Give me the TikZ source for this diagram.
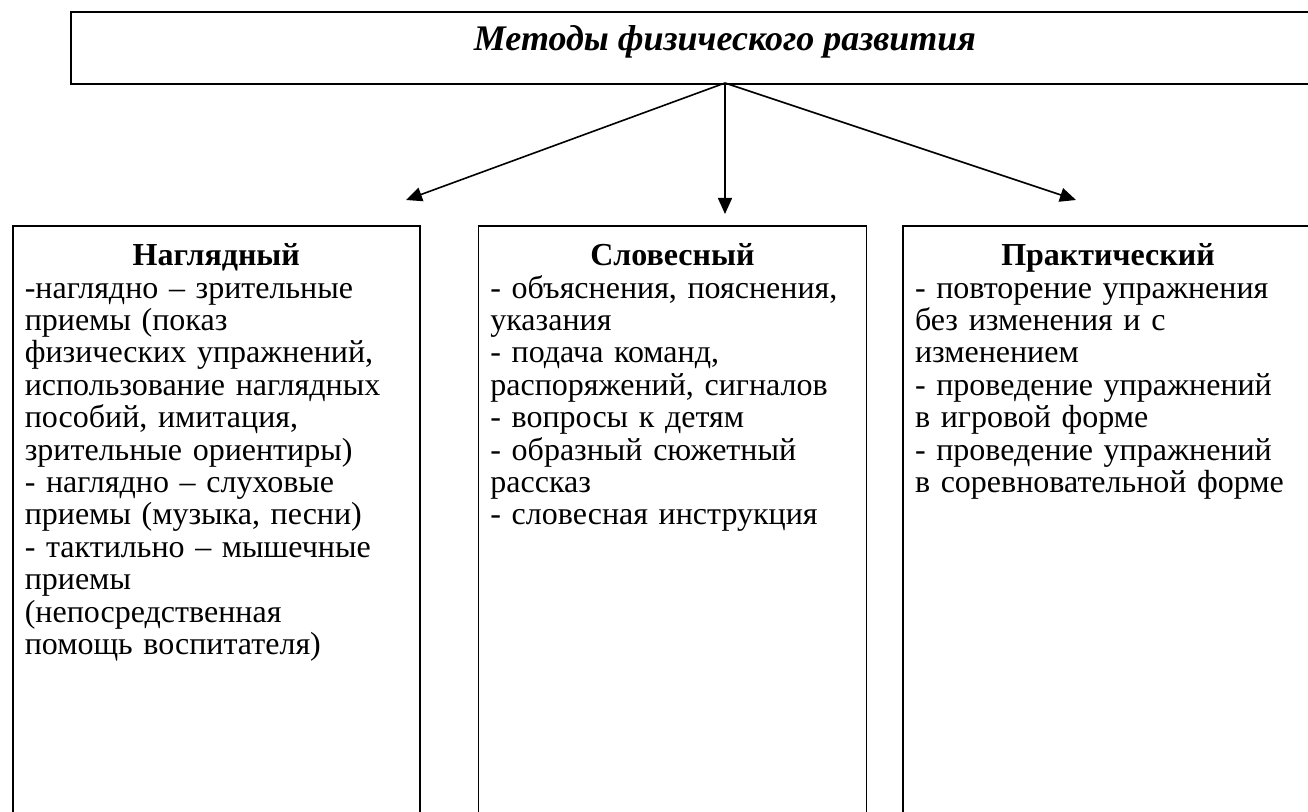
\documentclass[tikz,border=0pt]{standalone}
\usepackage{fontspec}
\setmainfont{Liberation Serif}
\usetikzlibrary{arrows.meta,positioning}

\begin{document}
\begin{tikzpicture}[x=0.5pt,y=-0.5pt,->,>={Triangle[length=8pt,width=7pt]},line width=0.8pt]
\tikzstyle{methodbox}=[draw,anchor=north west,align=left,inner xsep=6pt,inner ysep=9pt,text height=11pt,text depth=290pt,font=\fontsize{16pt}{16.2pt}\selectfont]

\useasboundingbox (0,0) rectangle (1308,812);
\clip (0,0) rectangle (1308,812);

\node[draw,anchor=north west,minimum width=660pt,minimum height=36pt,inner sep=0pt] (top) at (70,11) {};
\node[anchor=base,font=\fontsize{18pt}{18pt}\selectfont\bfseries\itshape] (title) at (725,51) {Методы физического развития};

\coordinate (fork) at (725,83);
\coordinate (visualtip) at (406,200);
\coordinate (verbaltip) at (725,214);
\coordinate (practicaltip) at (1076,200);

\node[methodbox,text width=191.5pt] (visual) at (12,225) {\makebox[\linewidth]{\textbf{Наглядный}}\\
-наглядно – зрительные\\
приемы (показ\\
физических упражнений,\\
использование наглядных\\
пособий, имитация,\\
зрительные ориентиры)\\
- наглядно – слуховые\\
приемы (музыка, песни)\\
- тактильно – мышечные\\
приемы\\
(непосредственная\\
помощь воспитателя)};
\node[methodbox,text width=182pt] (verbal) [right=28.5pt of visual] {\makebox[\linewidth]{\textbf{Словесный}}\\
- объяснения, пояснения,\\
указания\\
- подача команд,\\
распоряжений, сигналов\\
- вопросы к детям\\
- образный сюжетный\\
рассказ\\
- словесная инструкция};
\node[methodbox,text width=193pt] (practical) [right=17.5pt of verbal] {\makebox[\linewidth]{\textbf{Практический}}\\
- повторение упражнения\\
без изменения и с\\
изменением\\
- проведение упражнений\\
в игровой форме\\
- проведение упражнений\\
в соревновательной форме};

\path
(fork) edge (visualtip)
(fork) edge (verbaltip)
(fork) edge (practicaltip)
;
\end{tikzpicture}
\end{document}
